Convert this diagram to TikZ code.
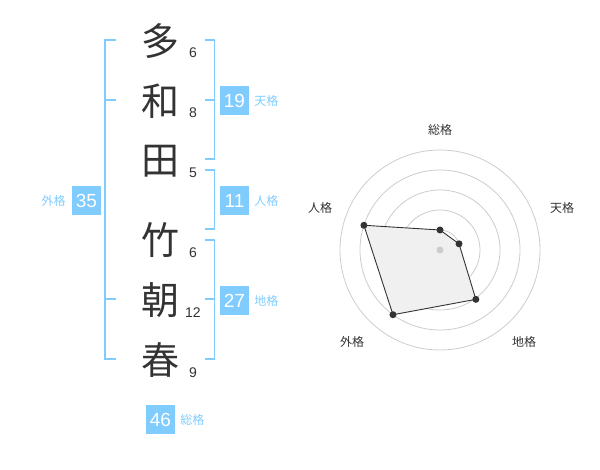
\documentclass[tikz,border=0pt]{standalone}
\usepackage{fontspec}
\setmainfont{Liberation Sans}
\newfontfamily\cjk{Noto Sans CJK JP}
\definecolor{lb}{HTML}{80CCFF}
\definecolor{txt}{HTML}{333333}
\definecolor{gridc}{HTML}{CCCCCC}
\definecolor{fillc}{HTML}{F0F0F0}
\tikzset{
  kanji/.style={inner sep=0pt, text=txt, font=\cjk\fontsize{38}{38}\selectfont},
  num/.style={inner sep=0pt, text=txt, font=\fontsize{14}{14}\selectfont},
  br/.style={draw=lb, line width=1.8pt},
  numbox/.style={fill=lb, text=white, minimum size=29pt, inner sep=0pt, font=\fontsize{19}{19}\selectfont},
  lbl/.style={inner sep=0pt, text=lb, font=\cjk\fontsize{12}{12}\selectfont},
  rlbl/.style={inner sep=0pt, text=txt, font=\cjk\fontsize{12}{12}\selectfont},
  ring/.style={draw=gridc, line width=0.8pt},
  poly/.style={fill=fillc, draw=txt, line width=0.9pt},
  dotc/.style={fill=txt},
}
\begin{document}
\begin{tikzpicture}[x=1pt,y=-1pt]
\useasboundingbox (0,0) rectangle (600,470);
% name characters
\node[kanji] (k1) at (160,41) {多};
\node[kanji] (k2) at (160,101) {和};
\node[kanji] (k3) at (160,161) {田};
\node[kanji] (k4) at (160,240) {竹};
\node[kanji] (k5) at (160,300) {朝};
\node[kanji] (k6) at (160,360) {春};
% stroke counts
\node[num] (s1) at (193,53) {6};
\node[num] (s2) at (193,113) {8};
\node[num] (s3) at (193,173) {5};
\node[num] (s4) at (193,253) {6};
\node[num] (s5) at (193,313) {12};
\node[num] (s6) at (193,373) {9};
% brackets
\draw[br] (116,40) -- (105,40) -- (105,359) -- (116,359);
\draw[br] (105,100) -- (116,100);
\draw[br] (105,299) -- (116,299);
\draw[br] (205,40) -- (214.5,40) -- (214.5,159) -- (205,159);
\draw[br] (205,100) -- (214.5,100);
\draw[br] (205,170) -- (214.5,170) -- (214.5,229) -- (205,229);
\draw[br] (205,240) -- (214.5,240) -- (214.5,359) -- (205,359);
\draw[br] (205,299) -- (214.5,299);
% boxes
\node[numbox] (b19) at (234.5,100.5) {19};
\node[lbl, anchor=west] (l19) at ([xshift=5pt]b19.east) {天格};
\node[numbox] (b11) at (234.5,200.5) {11};
\node[lbl, anchor=west] (l11) at ([xshift=5pt]b11.east) {人格};
\node[numbox] (b27) at (234.5,300.5) {27};
\node[lbl, anchor=west] (l27) at ([xshift=5pt]b27.east) {地格};
\node[numbox] (b35) at (86.5,200.5) {35};
\node[lbl, anchor=east] (l35) at ([xshift=-6pt]b35.west) {外格};
\node[numbox] (b46) at (160.5,419.5) {46};
\node[lbl, anchor=west] (l46) at ([xshift=5pt]b46.east) {総格};
% radar chart
\coordinate (c) at (440,250);
\foreach \r in {20,40,60,80,100} \draw[ring] (c) circle[radius=\r];
\coordinate (p1) at ([shift={(c)}]-90:20);
\coordinate (p2) at ([shift={(c)}]-18:20);
\coordinate (p3) at ([shift={(c)}]54:61);
\coordinate (p4) at ([shift={(c)}]126:80);
\coordinate (p5) at ([shift={(c)}]-162:80);
\filldraw[poly] (p1) -- (p2) -- (p3) -- (p4) -- (p5) -- cycle;
\fill[gridc] (c) circle[radius=3.5];
\foreach \p in {p1,p2,p3,p4,p5} \fill[dotc] (\p) circle[radius=3.5];
\node[rlbl] (r1) at (440,130) {総格};
\node[rlbl] (r2) at (562,208) {天格};
\node[rlbl] (r3) at (524,342) {地格};
\node[rlbl] (r4) at (352,342) {外格};
\node[rlbl] (r5) at (320,208) {人格};
\end{tikzpicture}
\end{document}
